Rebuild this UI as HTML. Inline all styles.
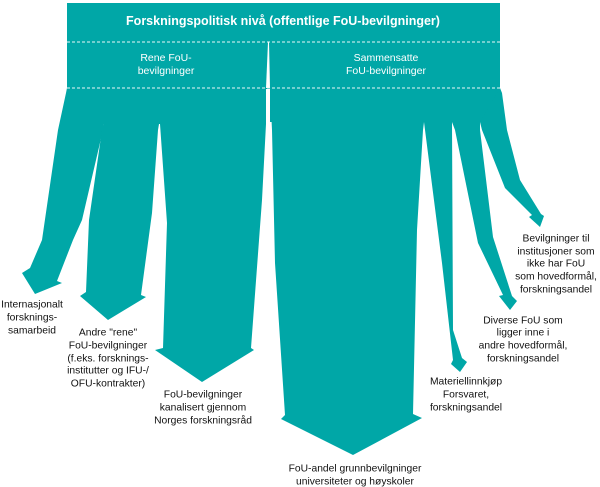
<!DOCTYPE html>
<html><head><meta charset="utf-8"><style>
html,body{margin:0;padding:0;background:#fff;}
svg{display:block;}
text{font-family:"Liberation Sans",Arial,sans-serif;}
</style></head><body>
<svg width="600" height="487" viewBox="0 0 600 487" xmlns="http://www.w3.org/2000/svg">
<g fill="#00A7A7">
<rect x="67" y="3" width="433" height="86"/>
<polygon points="67,88 266,88 266,124 67,124"/>
<polygon points="270,88 500,88 500,122 270,122"/>
<polygon points="67,88 66,93 58,130 42,240 30,268 22,273 35,294 62,283 57,281 73,240 82,220 103,130 104,124"/>
<polygon points="104,124 102,130 89,220 86,292 80,296 108,320 146,297 141,295 152,213 158,130 159,124"/>
<polygon points="159,124 160,124 167,223 163,348 155,350 202,382 254,350 251,348 262,200 266,124"/>
<polygon points="270,88 272,130 275,263 285,415 281,419 353,455 422,418 413,414 417,230 423,130 424,122 424,88"/>
<polygon points="424,122 442,263 453,360 451,364 460,372 467,362 462,358 453,330 452,122"/>
<polygon points="452,122 455,130 478,243 503,295 499,296 510,310 517,301 512,296 493,237 480,130 480,122"/>
<polygon points="480,122 482,130 505,188 532,215 529,217 540,227 544,216 541,214 520,180 507,130 502,93 500,88"/>
</g>
<polygon points="268,42 269,42 270,88 266,88" fill="#fff"/>
<g stroke="#e8f7f7" stroke-width="1" stroke-dasharray="3,2">
<line x1="67" y1="42" x2="500" y2="42"/>
<line x1="67" y1="88" x2="500" y2="88"/>
</g>
<g fill="#fff" text-anchor="middle" dominant-baseline="central">
<text x="283" y="21" font-size="12.5" font-weight="bold">Forskningspolitisk nivå (offentlige FoU-bevilgninger)</text>
<text x="166" y="58" font-size="10.5">Rene FoU-</text>
<text x="166" y="71" font-size="10.5">bevilgninger</text>
<text x="386" y="58" font-size="10.5">Sammensatte</text>
<text x="386" y="71" font-size="10.5">FoU-bevilgninger</text>
</g>
<g fill="#111" text-anchor="middle" dominant-baseline="central" font-size="10.3">
<text x="32" y="305">Internasjonalt</text>
<text x="32" y="318">forsknings-</text>
<text x="32" y="331">samarbeid</text>
<text x="108" y="333">Andre "rene"</text>
<text x="108" y="346">FoU-bevilgninger</text>
<text x="108" y="359">(f.eks. forsknings-</text>
<text x="108" y="371">institutter og IFU-/</text>
<text x="108" y="384">OFU-kontrakter)</text>
<text x="203" y="395">FoU-bevilgninger</text>
<text x="203" y="408">kanalisert gjennom</text>
<text x="203" y="421">Norges forskningsråd</text>
<text x="355" y="469">FoU-andel grunnbevilgninger</text>
<text x="355" y="482">universiteter og høyskoler</text>
<text x="466" y="382">Materiellinnkjøp</text>
<text x="466" y="395">Forsvaret,</text>
<text x="466" y="408">forskningsandel</text>
<text x="523" y="321">Diverse FoU som</text>
<text x="523" y="333">ligger inne i</text>
<text x="523" y="346">andre hovedformål,</text>
<text x="523" y="359">forskningsandel</text>
<text x="556" y="239">Bevilgninger til</text>
<text x="556" y="252">institusjoner som</text>
<text x="556" y="264">ikke har FoU</text>
<text x="556" y="277">som hovedformål,</text>
<text x="556" y="290">forskningsandel</text>
</g>
</svg>
</body></html>
